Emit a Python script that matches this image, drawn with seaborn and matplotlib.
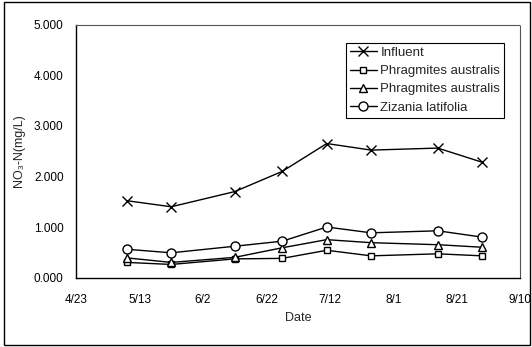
import matplotlib
matplotlib.use("Agg")
import matplotlib.pyplot as plt
from matplotlib.patches import Rectangle
import seaborn as sns
import pandas as pd
import numpy as np

# ---- data ----
dates = ["2000-05-09", "2000-05-23", "2000-06-12", "2000-06-27",
         "2000-07-11", "2000-07-25", "2000-08-15", "2000-08-29"]
influent = [1.52, 1.40, 1.70, 2.10, 2.65, 2.52, 2.56, 2.28]
phrag_sq = [0.30, 0.26, 0.37, 0.38, 0.54, 0.43, 0.47, 0.43]
phrag_tri = [0.39, 0.30, 0.40, 0.59, 0.75, 0.69, 0.65, 0.60]
zizania = [0.56, 0.49, 0.62, 0.72, 1.00, 0.885, 0.925, 0.80]
labels = ["Influent", "Phragmites australis", "Phragmites australis", "Zizania latifolia"]
x_tick_labels = ["4/23", "5/13", "6/2", "6/22", "7/12", "8/1", "8/21", "9/10"]
y_ticks = [0, 1, 2, 3, 4, 5]
y_tick_labels = ["0.000", "1.000", "2.000", "3.000", "4.000", "5.000"]

sns.set_theme(style="white")
plt.rcParams["font.family"] = ["Liberation Sans", "DejaVu Sans"]

fig = plt.figure(figsize=(5.32, 3.47), dpi=100)
ax = fig.add_axes([0.143, 0.200, 0.835, 0.729])

dt = pd.to_datetime(dates)
series = [influent, phrag_sq, phrag_tri, zizania]
markers = ["x", "s", "^", "o"]
msizes = [6.5, 5, 5.5, 6.5]
for vals, lab, m, ms in zip(series, labels, markers, msizes):
    df = pd.DataFrame({"date": dt, "value": vals})
    mfc = "black" if m == "x" else "white"
    sns.lineplot(data=df, x="date", y="value", ax=ax, color="black",
                 linewidth=1.0, marker=m, markersize=ms,
                 markerfacecolor=mfc, markeredgecolor="black",
                 markeredgewidth=1.0, label=lab)

start = pd.Timestamp("2000-04-23")
xt = [start + pd.Timedelta(days=20 * i) for i in range(len(x_tick_labels))]
ax.set_xlim(xt[0], xt[-1])
ax.set_xticks(xt)
ax.set_xticklabels(x_tick_labels)
ax.set_ylim(0, 5)
ax.set_yticks(y_ticks)
ax.set_yticklabels(y_tick_labels)
ax.tick_params(axis="both", direction="in", length=3, width=0.8,
               labelsize=8.5, colors="black", pad=9)
ax.tick_params(axis="x", pad=12)
ax.set_xlabel("Date", fontsize=9, labelpad=4)
ax.set_ylabel("NO₃-N(mg/L)", fontsize=9, labelpad=6)

for s in ["left", "bottom"]:
    ax.spines[s].set_color("black")
    ax.spines[s].set_linewidth(1.0)
for s in ["top", "right"]:
    ax.spines[s].set_color("#555555")
    ax.spines[s].set_linewidth(0.8)
    ax.spines[s].set_linestyle((0, (1, 1)))
ax.grid(False)

leg = ax.legend(loc="upper right", bbox_to_anchor=(0.964, 0.928), fontsize=9.5,
                frameon=True, fancybox=False, framealpha=1, edgecolor="black",
                handlelength=2.0, handletextpad=0.3, borderpad=0.3,
                labelspacing=0.45, borderaxespad=0)
leg.get_frame().set_linewidth(0.8)

fig.patches.append(Rectangle((0.008, 0.006), 0.988, 0.988, transform=fig.transFigure,
                             fill=False, edgecolor="black", linewidth=1.0))

fig.savefig("out.png", dpi=100, facecolor="white")
